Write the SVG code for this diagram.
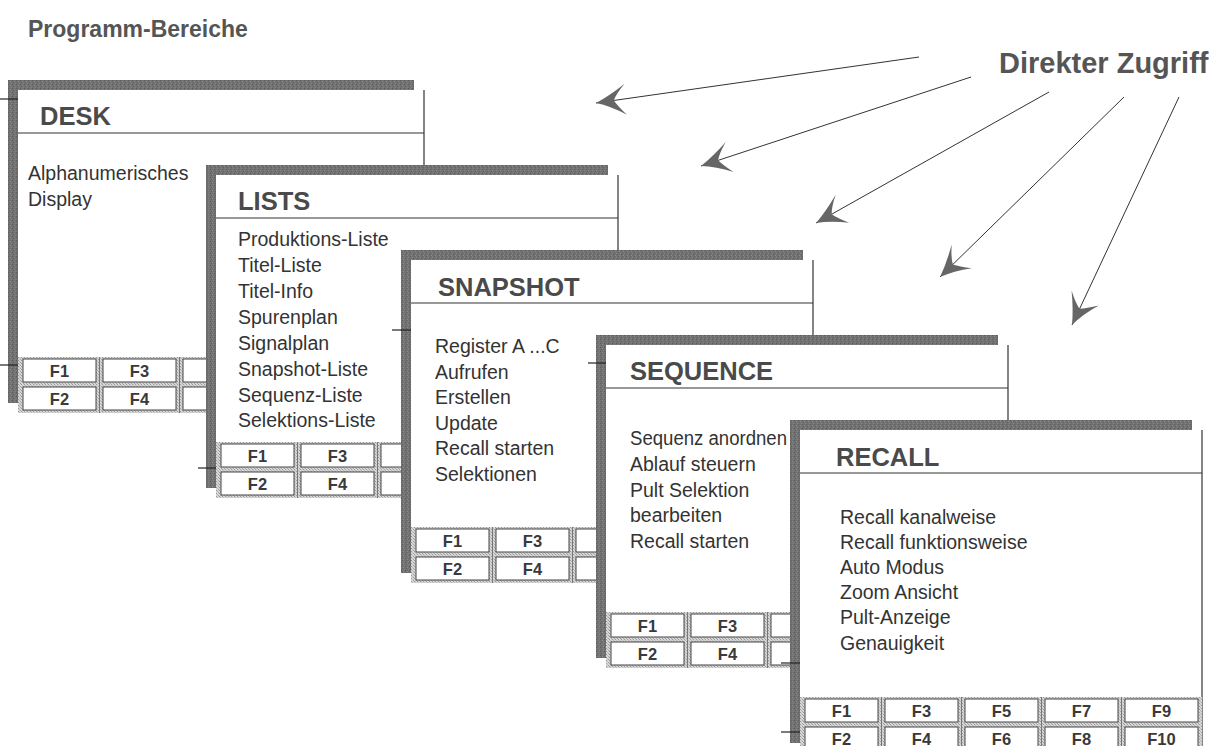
<svg xmlns="http://www.w3.org/2000/svg" xmlns:xlink="http://www.w3.org/1999/xlink" width="1225" height="746" viewBox="0 0 1225 746">
<style>
.hdr{font-family:"Liberation Sans",Arial,sans-serif;font-weight:bold;fill:#555;}
.ttl{font-family:"Liberation Sans",Arial,sans-serif;font-weight:bold;font-size:25.5px;fill:#4a4a4a;}
.body{font-family:"Liberation Sans",Arial,sans-serif;font-size:19.5px;fill:#333;}
.fk{font-family:"Liberation Sans",Arial,sans-serif;font-weight:bold;font-size:16.5px;fill:#3a3a3a;text-anchor:middle;}
.key{fill:#fff;stroke:#444;stroke-width:1;}
.sep{stroke:#777;stroke-width:1;}
.edge{stroke:#333;stroke-width:1.2;fill:none;}
.tick{stroke:#222;stroke-width:1.2;}
.conn{stroke:#333;stroke-width:1;fill:none;marker-end:url(#ah);}
</style>
<defs>
<pattern id="tex" width="4" height="4" patternUnits="userSpaceOnUse">
<rect width="4" height="4" fill="#727272"/>
<rect x="0" y="0" width="1" height="1" fill="#5a5a5a"/>
<rect x="2" y="1" width="1" height="1" fill="#8a8a8a"/>
<rect x="1" y="2" width="1" height="1" fill="#626262"/>
<rect x="3" y="3" width="1" height="1" fill="#868686"/>
</pattern>
<pattern id="hatch" width="3" height="3" patternUnits="userSpaceOnUse">
<rect width="3" height="3" fill="#d6d6d6"/>
<rect x="0" y="0" width="1" height="1" fill="#9a9a9a"/>
<rect x="1" y="1" width="1" height="1" fill="#bbb"/>
<rect x="2" y="2" width="1" height="1" fill="#a5a5a5"/>
</pattern>
<marker id="ah" markerUnits="userSpaceOnUse" viewBox="-33 -18 35 36" markerWidth="35" markerHeight="36" refX="0" refY="0" orient="auto">
<path d="M0,0 Q-14,-5 -29,-16 Q-21,-6 -18,0 Q-21,6 -31,15 Q-14,5 0,0 Z" fill="#666"/>
</marker>
<g id="fkeys">
<rect x="0" y="0" width="402" height="56" fill="url(#hatch)"/>
<line class="sep" x1="81.5" y1="0" x2="81.5" y2="56"/>
<line class="sep" x1="161.5" y1="0" x2="161.5" y2="56"/>
<line class="sep" x1="241.5" y1="0" x2="241.5" y2="56"/>
<line class="sep" x1="321.5" y1="0" x2="321.5" y2="56"/>
<rect class="key" x="5" y="2" width="73" height="23"/>
<rect class="key" x="85" y="2" width="73" height="23"/>
<rect class="key" x="165" y="2" width="73" height="23"/>
<rect class="key" x="245" y="2" width="73" height="23"/>
<rect class="key" x="325" y="2" width="73" height="23"/>
<rect class="key" x="5" y="30" width="73" height="23"/>
<rect class="key" x="85" y="30" width="73" height="23"/>
<rect class="key" x="165" y="30" width="73" height="23"/>
<rect class="key" x="245" y="30" width="73" height="23"/>
<rect class="key" x="325" y="30" width="73" height="23"/>
<text class="fk" x="41.5" y="19.5">F1</text>
<text class="fk" x="121.5" y="19.5">F3</text>
<text class="fk" x="201.5" y="19.5">F5</text>
<text class="fk" x="281.5" y="19.5">F7</text>
<text class="fk" x="361.5" y="19.5">F9</text>
<text class="fk" x="41.5" y="47.5">F2</text>
<text class="fk" x="121.5" y="47.5">F4</text>
<text class="fk" x="201.5" y="47.5">F6</text>
<text class="fk" x="281.5" y="47.5">F8</text>
<text class="fk" x="361.5" y="47.5">F10</text>
</g>
<g id="frame">
<rect x="0" y="0" width="402" height="323" fill="url(#tex)"/>
<rect x="10" y="10" width="402" height="323" fill="#fff"/>
<line class="edge" x1="412" y1="10" x2="412" y2="333"/>
<line class="edge" x1="10" y1="53" x2="412" y2="53"/>
<use xlink:href="#fkeys" x="10" y="277"/>
</g>
</defs>
<rect width="1225" height="746" fill="#fff"/>
<text class="hdr" x="28" y="37" font-size="23">Programm-Bereiche</text>
<text class="hdr" x="999" y="73" font-size="29">Direkter Zugriff</text>

<g id="desk">
<rect x="8" y="80" width="406" height="323" fill="url(#tex)"/>
<rect x="18" y="90" width="406" height="323" fill="#fff"/>
<line class="edge" x1="424" y1="90" x2="424" y2="413"/>
<line class="edge" x1="18" y1="133" x2="424" y2="133"/>
<use xlink:href="#fkeys" x="18" y="357"/>
<line class="tick" x1="0" y1="99" x2="18" y2="99"/>
<line class="tick" x1="0" y1="365" x2="18" y2="365"/>
<text class="ttl" x="40" y="125">DESK</text>
<text class="body" x="28" y="180">Alphanumerisches</text>
<text class="body" x="28" y="206">Display</text>
</g>

<g id="lists">
<use xlink:href="#frame" x="206" y="165"/>
<line class="tick" x1="198" y1="468" x2="216" y2="468"/>
<text class="ttl" x="238" y="210">LISTS</text>
<text class="body" x="238" y="246">Produktions-Liste</text>
<text class="body" x="238" y="272">Titel-Liste</text>
<text class="body" x="238" y="298">Titel-Info</text>
<text class="body" x="238" y="324">Spurenplan</text>
<text class="body" x="238" y="350">Signalplan</text>
<text class="body" x="238" y="376">Snapshot-Liste</text>
<text class="body" x="238" y="402">Sequenz-Liste</text>
<text class="body" x="238" y="427">Selektions-Liste</text>
</g>

<g id="snapshot">
<use xlink:href="#frame" x="401" y="250"/>
<line class="tick" x1="392" y1="330" x2="411" y2="330"/>
<text class="ttl" x="438" y="296">SNAPSHOT</text>
<text class="body" x="435" y="353">Register A ...C</text>
<text class="body" x="435" y="379">Aufrufen</text>
<text class="body" x="435" y="404">Erstellen</text>
<text class="body" x="435" y="430">Update</text>
<text class="body" x="435" y="455">Recall starten</text>
<text class="body" x="435" y="481">Selektionen</text>
</g>

<g id="sequence">
<use xlink:href="#frame" x="596" y="335"/>
<line class="tick" x1="588" y1="363" x2="606" y2="363"/>
<text class="ttl" x="630" y="380">SEQUENCE</text>
<text class="body" x="630" y="445" textLength="157" lengthAdjust="spacingAndGlyphs">Sequenz anordnen</text>
<text class="body" x="630" y="471">Ablauf steuern</text>
<text class="body" x="630" y="497">Pult Selektion</text>
<text class="body" x="630" y="522">bearbeiten</text>
<text class="body" x="630" y="548">Recall starten</text>
</g>

<g id="recall">
<use xlink:href="#frame" x="790" y="420"/>
<line class="tick" x1="781" y1="663" x2="800" y2="663"/>
<line class="tick" x1="781" y1="732" x2="800" y2="732"/>
<text class="ttl" x="836" y="466">RECALL</text>
<text class="body" x="840" y="524">Recall kanalweise</text>
<text class="body" x="840" y="549">Recall funktionsweise</text>
<text class="body" x="840" y="574">Auto Modus</text>
<text class="body" x="840" y="599">Zoom Ansicht</text>
<text class="body" x="840" y="624">Pult-Anzeige</text>
<text class="body" x="840" y="650">Genauigkeit</text>
</g>

<g id="connectors">
<line class="conn" x1="919" y1="57" x2="596" y2="103"/>
<line class="conn" x1="971" y1="77" x2="701" y2="166"/>
<line class="conn" x1="1049" y1="92" x2="816" y2="223"/>
<line class="conn" x1="1124" y1="97" x2="940" y2="277"/>
<line class="conn" x1="1179" y1="97" x2="1072" y2="325"/>
</g>
</svg>
